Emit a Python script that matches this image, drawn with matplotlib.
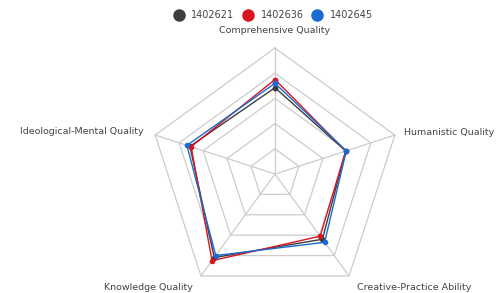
import numpy as np
import matplotlib.pyplot as plt
from matplotlib.lines import Line2D

indicators = ["Comprehensive Quality", "Humanistic Quality", "Creative-Practice Ability",
              "Knowledge Quality", "Ideological-Mental Quality"]
series_names = ["1402621", "1402636", "1402645"]
s_1402621 = [68.5, 59, 64, 82, 71]
s_1402636 = [75, 59, 61, 85, 70]
s_1402645 = [72, 59.5, 67, 80, 73.5]
colors = ["#3d3d3d", "#d9141e", "#1a6bd1"]
max_value = 100
rings = [20, 40, 60, 80, 100]

W, H = 496, 293
fig = plt.figure(figsize=(W / 100, H / 100), dpi=100)
cx, cy, R = 275, 174, 126
ax = fig.add_axes([(cx - R) / W, (H - cy - R) / H, 2 * R / W, 2 * R / H], projection="polar")
ax.set_theta_offset(np.pi / 2)
ax.set_theta_direction(-1)
ax.set_ylim(0, max_value)
ax.axis("off")

n = len(indicators)
theta = np.linspace(0, 2 * np.pi, n, endpoint=False)
theta_c = np.append(theta, theta[0])

# polygon grid
for r in rings:
    ax.plot(theta_c, [r] * (n + 1), color="#cccccc", lw=0.9, zorder=1, clip_on=False)
for t in theta:
    ax.plot([t, t], [0, max_value], color="#cccccc", lw=0.9, zorder=1, clip_on=False)

for name, vals, c in zip(series_names, [s_1402621, s_1402636, s_1402645], colors):
    v = list(vals) + [vals[0]]
    ax.plot(theta_c, v, color=c, lw=1.0, marker="o", ms=3, zorder=3, clip_on=False)

# indicator names
label_style = [(114, "center", "center"), (107.5, "left", "center"), (111, "left", "center"),
               (111, "right", "center"), (110, "right", "center")]
for t, lab, (r, ha, va) in zip(theta, indicators, label_style):
    ax.text(t, r, lab, ha=ha, va=va, fontsize=6.8, color="#444444", clip_on=False)

handles = [Line2D([], [], color=c, marker="o", ls="", ms=8) for c in colors]
fig.legend(handles, series_names, loc="center", bbox_to_anchor=(273.5 / W, 1 - 15 / H), ncol=3,
           frameon=False, fontsize=7, handletextpad=0.8, columnspacing=0.9,
           labelcolor="#444444", handlelength=1.0)

fig.savefig("out.png", dpi=100)
